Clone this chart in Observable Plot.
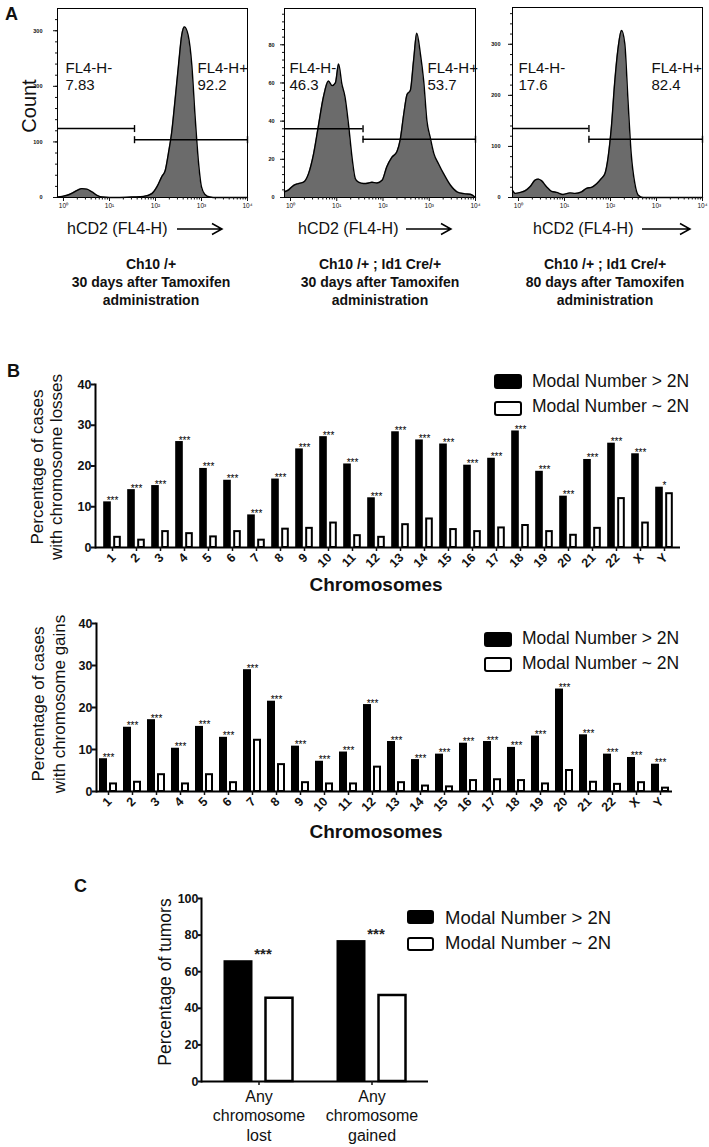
<!DOCTYPE html>
<html><head><meta charset="utf-8">
<script src="https://cdn.jsdelivr.net/npm/d3@7"></script>
<script src="https://cdn.jsdelivr.net/npm/@observablehq/plot@0.6"></script>
<style>
body{margin:0;background:#fff;font-family:"Liberation Sans",Arial,sans-serif;color:#111;}
#fig{position:relative;width:709px;height:1147px;overflow:hidden;background:#fff;}
.abs{position:absolute;white-space:nowrap;}
</style></head><body><div id="fig"></div>
<script>
// ---------- Panel A: flow histograms (x = log10 FL4-H, y = count) ----------
const hist1LogX = [-0.13,-0.03,0.08,0.19,0.30,0.40,0.51,0.62,0.73,0.84,1.16,1.52,1.74,1.92,2.03,2.14,2.21,2.28,2.35,2.42,2.50,2.57,2.63,2.71,2.79,2.86,2.93,3.00,3.07,3.18,3.33,4.0];
const hist1Count = [1,2,4,8,13,16,15,10,4,1,0,1,2,7,19,38,48,79,116,171,238,292,307,292,238,147,68,19,6,1,0,0];
const hist2LogX = [-0.13,-0.04,0.07,0.17,0.28,0.39,0.50,0.61,0.71,0.82,0.90,0.97,1.04,1.11,1.18,1.26,1.33,1.40,1.47,1.58,1.69,1.76,1.87,1.98,2.08,2.19,2.30,2.37,2.45,2.52,2.59,2.66,2.73,2.81,2.88,2.95,3.02,3.10,3.20,3.31,3.46,3.60,3.75,3.89,4.0];
const hist2Count = [3,4,6.4,7.3,8,12.5,23,38.6,52.5,61,58.6,60,70,59.5,52.5,37,21,10,8,7.3,7.6,8,7.6,9,16,21,24,30,44,54,56,71.6,86,75,61,40,31.6,23,17.7,12.5,6.4,3,2,1.7,0];
const hist3LogX = [-0.13,-0.07,0.04,0.14,0.25,0.36,0.43,0.50,0.61,0.72,0.83,0.97,1.12,1.23,1.37,1.48,1.59,1.70,1.80,1.88,1.95,2.02,2.09,2.16,2.24,2.31,2.38,2.45,2.53,2.60,2.71,4.0];
const hist3Count = [14,8,10,13,21,34,36,33,21,12,10,6,9,8,11,18,20,27,37,47,80,139,224,289,327,302,191,86,27,5,0,0];
const gateBoundary = [35, 37, 34];
const gateNegY = [124, 36, 135];
const gatePosY = [104, 30.5, 114];
const gateNames = ["FL4-H-", "FL4-H+"];
const negPct = ["7.83", "46.3", "17.6"];
const posPct = ["92.2", "53.7", "82.4"];
const histYTicks = [[0,100,200,300],[0,20,40,60,80],[0,100,200,300]];
const histCaptions = [
  ["Ch10 /+", "30 days after Tamoxifen", "administration"],
  ["Ch10 /+ ; Id1 Cre/+", "30 days after Tamoxifen", "administration"],
  ["Ch10 /+ ; Id1 Cre/+", "80 days after Tamoxifen", "administration"]
];

// ---------- Panel B ----------
const chromosomes = ["1","2","3","4","5","6","7","8","9","10","11","12","13","14","15","16","17","18","19","20","21","22","X","Y"];
const lossAbove2N = [11.2,14.2,15.2,26.0,19.4,16.5,8.0,16.8,24.2,27.2,20.5,12.2,28.4,26.4,25.4,20.2,21.9,28.6,18.7,12.6,21.6,25.6,23.0,14.8];
const lossNear2N  = [2.5,1.8,3.9,3.4,2.6,3.9,1.8,4.5,4.7,6.0,2.9,2.5,5.6,7.0,4.4,3.9,4.8,5.4,3.9,3.0,4.7,12.0,6.0,13.2];
const lossSig = ["***","***","***","***","***","***","***","***","***","***","***","***","***","***","***","***","***","***","***","***","***","***","***","*"];
const gainAbove2N = [7.8,15.3,17.1,10.3,15.5,12.9,29.0,21.5,10.8,7.2,9.4,20.7,11.9,7.6,8.9,11.5,11.9,10.5,13.2,24.4,13.5,8.9,8.1,6.5];
const gainNear2N  = [1.8,2.2,4.0,1.8,4.0,2.1,12.2,6.4,2.1,1.8,1.8,5.8,2.1,1.3,1.1,2.6,2.8,2.6,1.8,5.0,2.2,1.7,2.1,0.8];
const gainSig = ["***","***","***","***","***","***","***","***","***","***","***","***","***","***","***","***","***","***","***","***","***","***","***","***"];
const seriesNames = ["Modal Number > 2N", "Modal Number ~ 2N"];
const seriesFills = ["#000", "#fff"];

// ---------- Panel C ----------
const tumorCats = ["Any\nchromosome\nlost", "Any\nchromosome\ngained"];
const tumorAbove2N = [66, 77];
const tumorNear2N = [45.5, 47];
const tumorSig = ["***", "***"];

// ---------- helpers ----------
const FONT = "'Liberation Sans', Arial, sans-serif";
const fig = document.getElementById("fig");
function place(node, left, top) {
  const w = document.createElement("div");
  w.style.cssText = `position:absolute;left:${left}px;top:${top}px;`;
  w.appendChild(node); fig.appendChild(w);
}
function txt(str, x, baseline, fs, bold, anchor) {
  const d = document.createElement("div");
  d.className = "abs";
  d.style.fontSize = fs + "px";
  d.style.lineHeight = "1";
  d.style.fontWeight = bold ? "bold" : "normal";
  d.style.top = (baseline - 0.8465 * fs) + "px";
  d.style.left = x + "px";
  if (anchor === "middle") d.style.transform = "translateX(-50%)";
  d.textContent = str;
  fig.appendChild(d);
}
function rotTxt(lines, cx, cy, fs, lh) {
  const d = document.createElement("div");
  d.className = "abs";
  d.style.cssText += `left:${cx}px;top:${cy}px;font-size:${fs}px;line-height:${lh}px;text-align:center;transform:translate(-50%,-50%) rotate(-90deg);`;
  d.innerHTML = lines.join("<br>");
  fig.appendChild(d);
}
function legend(rx, ry, rw, rh, tx, baselines, fs) {
  seriesNames.forEach((name, i) => {
    const r = document.createElement("div");
    r.className = "abs";
    r.style.cssText += `left:${rx}px;top:${ry[i]}px;width:${rw}px;height:${rh}px;box-sizing:border-box;border:2px solid #000;border-radius:3px;background:${seriesFills[i]};`;
    fig.appendChild(r);
    txt(name, tx, baselines[i], fs, false);
  });
}
function arrow(x1, x2, y) {
  const ns = "http://www.w3.org/2000/svg";
  const s = document.createElementNS(ns, "svg");
  const L = x2 - x1;
  s.setAttribute("width", L + 2); s.setAttribute("height", 14);
  s.style.cssText = `position:absolute;left:${x1}px;top:${y - 7}px;overflow:visible;`;
  const p = document.createElementNS(ns, "path");
  p.setAttribute("d", `M0,7H${L}M${L - 10},1.5L${L},7L${L - 10},12.5`);
  p.setAttribute("stroke", "#000"); p.setAttribute("stroke-width", "1.5"); p.setAttribute("fill", "none");
  s.appendChild(p); fig.appendChild(s);
}

// ---------- Panel A plots ----------
const xDomain = [Math.pow(10, -0.13), 1e4];
const decades = [1, 10, 100, 1000, 10000];
const sup = ["\u2070", "\u00b9", "\u00b2", "\u00b3", "\u2074"];
const minorX = [];
for (const d of [1, 10, 100, 1000]) for (let k = 2; k <= 9; k++) minorX.push(k * d);
const vbar = {draw(ctx, size) { const r = Math.sqrt(size / Math.PI); ctx.moveTo(0, -r); ctx.lineTo(0, r); }};

function histogram(cfg) {
  const pts = cfg.logX.map((v, i) => ({x: Math.pow(10, v), y: cfg.count[i]}));
  const gates = [
    {x1: xDomain[0], x2: cfg.boundary, y: cfg.negY},
    {x1: cfg.boundary, x2: xDomain[1], y: cfg.posY}
  ];
  const ends = [{x: cfg.boundary, y: cfg.negY}, {x: cfg.boundary, y: cfg.posY}, {x: xDomain[1], y: cfg.posY}];
  const minorY = d3.range(0, cfg.ymax, cfg.yminor);
  return Plot.plot({
    width: cfg.width, height: 215,
    marginLeft: cfg.ml, marginRight: cfg.mr, marginTop: cfg.mt, marginBottom: 18,
    style: {background: "transparent", overflow: "visible", fontFamily: FONT, color: "#111"},
    x: {type: "log", domain: xDomain},
    y: {domain: [0, cfg.ymax]},
    marks: [
      Plot.areaY(pts, {x: "x", y: "y", fill: "#6b6b6b", curve: "monotone-x"}),
      Plot.lineY(pts, {x: "x", y: "y", stroke: "#000", strokeWidth: 1.4, curve: "monotone-x"}),
      Plot.ruleY(gates, {y: "y", x1: "x1", x2: "x2", stroke: "#000", strokeWidth: 1.4}),
      Plot.dot(ends, {x: "x", y: "y", symbol: vbar, r: 3.5, stroke: "#000", strokeWidth: 1.4}),
      Plot.frame({stroke: "#000", strokeWidth: 1}),
      Plot.axisX({ticks: decades, tickFormat: d => "10" + sup[Math.round(Math.log10(d))], tickSize: 4, tickPadding: 1.5, fontSize: 6.5, label: null}),
      Plot.axisX({ticks: minorX, tickSize: 2.5, tickFormat: () => "", label: null}),
      Plot.axisY({ticks: cfg.yticks, tickSize: 4, tickPadding: cfg.ypad, fontSize: 5.5, fontWeight: "bold", label: null}),
      Plot.axisY({ticks: minorY, tickSize: 2, tickFormat: () => "", label: null}),
      Plot.text([gateNames[0] + "\n" + cfg.neg], {text: d => d, frameAnchor: "top-left", textAnchor: "start", lineAnchor: "top", dx: cfg.ndx, dy: 71 - cfg.mt - 10.65, fontSize: 15, lineHeight: 1.15, fill: "#111"}),
      Plot.text([gateNames[1] + "\n" + cfg.pos], {text: d => d, frameAnchor: "top-right", textAnchor: "start", lineAnchor: "top", dx: cfg.pdx, dy: 71 - cfg.mt - 10.65, fontSize: 15, lineHeight: 1.15, fill: "#111"})
    ]
  });
}

const histCfg = [
  {logX: hist1LogX, count: hist1Count, left: 0, width: 250, ml: 57, mr: 3, mt: 8, ymax: 340, yminor: 20, ypad: 11, ndx: 8, pdx: -50},
  {logX: hist2LogX, count: hist2Count, left: 230, width: 250, ml: 54, mr: 5, mt: 8, ymax: 99, yminor: 4, ypad: 6, ndx: 5, pdx: -48},
  {logX: hist3LogX, count: hist3Count, left: 460, width: 249, ml: 52, mr: 7, mt: 7, ymax: 372, yminor: 20, ypad: 8, ndx: 6, pdx: -51}
];
histCfg.forEach((c, i) => {
  c.boundary = gateBoundary[i]; c.negY = gateNegY[i]; c.posY = gatePosY[i];
  c.neg = negPct[i]; c.pos = posPct[i]; c.yticks = histYTicks[i];
  place(histogram(c), c.left, 0);
});

// ---------- Panel B plots ----------
function chromChart(cfg) {
  const bw = (cfg.width - cfg.ml - cfg.mr) / chromosomes.length;
  const inset = (bw - 8) / 2;
  const rowsA = chromosomes.map((c, i) => ({c, v: cfg.above[i], s: cfg.sig[i]}));
  const rowsN = chromosomes.map((c, i) => ({c, v: cfg.near[i]}));
  return Plot.plot({
    width: cfg.width, height: 240,
    marginLeft: cfg.ml, marginRight: cfg.mr, marginTop: cfg.mt, marginBottom: cfg.mb,
    style: {background: "transparent", overflow: "visible", fontFamily: FONT, color: "#111"},
    x: {domain: chromosomes, padding: 0},
    y: {domain: [0, 40]},
    marks: [
      Plot.barY(rowsA, {x: "c", y: "v", fill: "#000", insetLeft: inset, insetRight: inset, dx: -5}),
      Plot.barY(rowsN, {x: "c", y: "v", fill: "#fff", stroke: "#000", strokeWidth: 2, insetLeft: inset + 1, insetRight: inset + 1, dx: 5}),
      Plot.text(rowsA, {x: "c", y: "v", text: "s", fontSize: 10, lineAnchor: "bottom", dy: 2, fill: "#000"}),
      Plot.ruleY([0], {stroke: "#000", strokeWidth: 2}),
      Plot.frame({anchor: "left", stroke: "#000", strokeWidth: 2}),
      Plot.axisY({ticks: [0, 10, 20, 30, 40], tickSize: 4, tickPadding: 0, strokeWidth: 2, fontSize: 12.5, fontWeight: "bold", label: null}),
      Plot.axisX({tickSize: 4, strokeWidth: 1.5, tickFormat: () => "", label: null}),
      Plot.text(chromosomes, {x: d => d, text: d => d, frameAnchor: "bottom", rotate: -45, textAnchor: "end", lineAnchor: "middle", dx: 1, dy: 8, fontSize: 12.5, fontWeight: "bold", fill: "#111"})
    ]
  });
}
place(chromChart({width: 709, ml: 95, mr: 29, mt: 14, mb: 63, above: lossAbove2N, near: lossNear2N, sig: lossSig}), 0, 370);
place(chromChart({width: 709, ml: 96, mr: 37, mt: 13, mb: 59, above: gainAbove2N, near: gainNear2N, sig: gainSig}), 0, 610);

// ---------- Panel C plot ----------
(function () {
  const width = 300, ml = 51, mr = 22;
  const bw = (width - ml - mr) / tumorCats.length;
  const inset = (bw - 29.5) / 2;
  const rowsA = tumorCats.map((c, i) => ({c, v: tumorAbove2N[i], s: tumorSig[i]}));
  const rowsN = tumorCats.map((c, i) => ({c, v: tumorNear2N[i]}));
  const chart = Plot.plot({
    width, height: 262, marginLeft: ml, marginRight: mr, marginTop: 13, marginBottom: 66,
    style: {background: "transparent", overflow: "visible", fontFamily: FONT, color: "#111"},
    x: {domain: tumorCats, padding: 0},
    y: {domain: [0, 100]},
    marks: [
      Plot.barY(rowsA, {x: "c", y: "v", fill: "#000", insetLeft: inset, insetRight: inset, dx: -20.5}),
      Plot.barY(rowsN, {x: "c", y: "v", fill: "#fff", stroke: "#000", strokeWidth: 2.5, insetLeft: inset + 1, insetRight: inset + 1, dx: 20.5}),
      Plot.text(rowsA, {x: "c", y: "v", text: "s", fontSize: 15, fontWeight: "bold", lineAnchor: "bottom", dx: 4, dy: -2, fill: "#222"}),
      Plot.ruleY([0], {stroke: "#000", strokeWidth: 2}),
      Plot.frame({anchor: "left", stroke: "#000", strokeWidth: 2}),
      Plot.axisY({ticks: [0, 20, 40, 60, 80, 100], tickSize: 3, tickPadding: 0, strokeWidth: 2, fontSize: 12.5, fontWeight: "bold", label: null}),
      Plot.axisX({tickSize: 4, tickPadding: 3, strokeWidth: 1.5, fontSize: 16, lineHeight: 1.2, label: null})
    ]
  });
  place(chart, 150, 885);
})();

// ---------- text overlays ----------
txt("A", 5, 20, 18, true);
rotTxt(["Count"], 28.5, 106, 20, 22);
[67, 298, 533].forEach(x => txt("hCD2 (FL4-H)", x, 235, 16, false));
arrow(177, 222, 229); arrow(406, 451, 229); arrow(642, 690, 229);
[151, 380, 605].forEach((cx, i) => {
  histCaptions[i].forEach((line, j) => txt(line, cx, 269 + 18 * j, 14, true, "middle"));
});

txt("B", 7, 377, 18, true);
rotTxt(["Percentage of cases", "with chromosome losses"], 47, 467, 17, 19);
legend(494, [374, 401], 28, 15, 532, [388, 413], 17.5);
txt("Chromosomes", 376, 591, 19, true, "middle");

rotTxt(["Percentage of cases", "with chromosome gains"], 49, 704, 17, 21);
legend(484, [632, 657], 28, 15, 522, [645, 670], 17.5);
txt("Chromosomes", 376, 838, 19, true, "middle");

txt("C", 74, 892, 18, true);
rotTxt(["Percentage of tumors"], 165, 982, 17.5, 20);
legend(407, [910, 937], 27, 14, 445, [925, 950], 18.5);
</script></body></html>
